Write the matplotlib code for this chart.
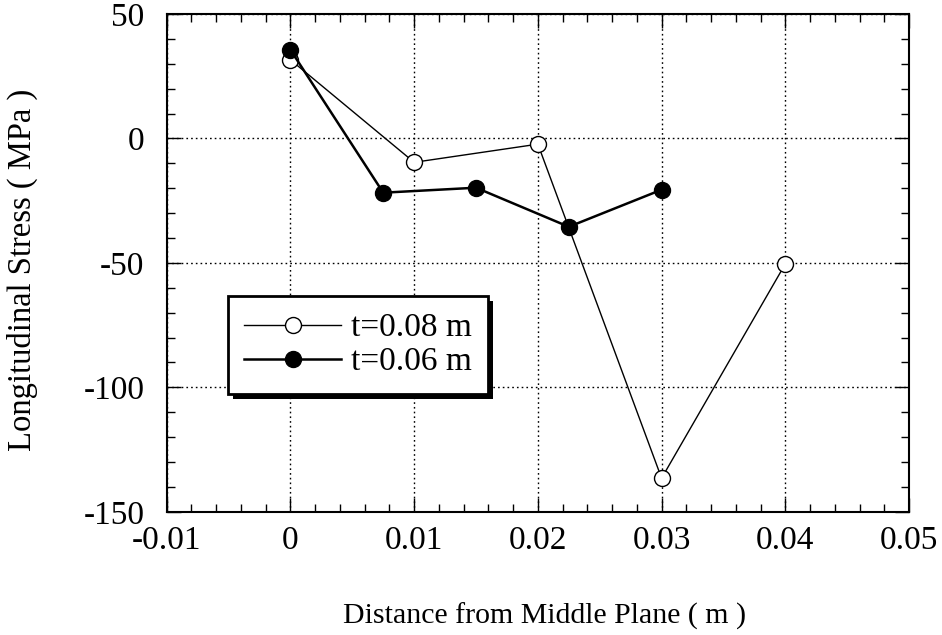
import matplotlib
matplotlib.use("Agg")
import matplotlib.pyplot as plt
from matplotlib.patches import Rectangle
from matplotlib.ticker import MultipleLocator

# Longitudinal stress across the plate thickness
x_t08 = [0.0, 0.01, 0.02, 0.03, 0.04]
s_t08 = [31.6, -9.6, -2.3, -136.5, -50.4]

x_t06 = [0.0, 0.0075, 0.015, 0.0225, 0.03]
s_t06 = [35.6, -21.8, -19.8, -35.5, -20.6]

labels = ["t=0.08 m", "t=0.06 m"]
xticks = [-0.01, 0, 0.01, 0.02, 0.03, 0.04, 0.05]
xtick_labels = ["-0.01", "0", "0.01", "0.02", "0.03", "0.04", "0.05"]
yticks = [50, 0, -50, -100, -150]
ytick_labels = ["50", "0", "-50", "-100", "-150"]

plt.rcParams["font.family"] = ["Liberation Serif", "DejaVu Serif"]

fig = plt.figure(figsize=(9.42, 6.35), dpi=100)
ax = fig.add_axes([0.177, 0.194, 0.788, 0.784])

ax.plot(x_t08, s_t08, color="black", lw=1.0, marker="o", ms=11.5,
        mfc="white", mec="black", mew=1.0, label=labels[0], zorder=3)
ax.plot(x_t06, s_t06, color="black", lw=1.8, marker="o", ms=11.5,
        mfc="black", mec="black", label=labels[1], zorder=4)

ax.set_xlim(-0.01, 0.05)
ax.set_ylim(-150, 50)
ax.set_xticks(xticks)
ax.set_xticklabels(xtick_labels)
ax.set_yticks(yticks)
ax.set_yticklabels(ytick_labels)
ax.xaxis.set_minor_locator(MultipleLocator(0.002))
ax.yaxis.set_minor_locator(MultipleLocator(10))

ax.tick_params(which="both", direction="in", top=True, right=True,
               labelsize=24, width=1.0)
ax.tick_params(which="major", length=10)
ax.tick_params(which="minor", length=6)
ax.tick_params(axis="x", which="major", pad=10)
ax.tick_params(axis="y", which="major", pad=16)

ax.grid(True, which="major", color="black", linestyle=(0, (1.2, 2.2)), lw=1.0)
for sp in ax.spines.values():
    sp.set_linewidth(1.5)

ax.set_xlabel("Distance from Middle Plane ( m )", fontsize=21.5)
ax.set_ylabel("Longitudinal Stress ( MPa )", fontsize=23.5)
ax.xaxis.label.set(va="center", ha="center")
ax.yaxis.label.set(va="center", ha="center", rotation_mode="anchor")
ax.xaxis.set_label_coords(0.509, -0.209)
ax.yaxis.set_label_coords(-0.195, 0.486)

leg = ax.legend(loc="upper left", bbox_to_anchor=(0.082, 0.433),
                borderaxespad=0, fontsize=24, frameon=True, fancybox=False,
                framealpha=1.0, handlelength=2.9, handletextpad=0.3,
                borderpad=0.5, labelspacing=0.1)
frame = leg.get_frame()
frame.set_edgecolor("black")
frame.set_linewidth(2.0)
frame.set_facecolor("white")
leg.set_zorder(6)

# solid drop shadow offset to the lower right of the legend box
fig.canvas.draw()
bb = leg.get_window_extent()
shadow = Rectangle((bb.x0 + 5, bb.y0 - 5), bb.width, bb.height,
                   transform=None, facecolor="black", edgecolor="none",
                   zorder=5)
ax.add_artist(shadow)

fig.savefig("out.png", dpi=100)
